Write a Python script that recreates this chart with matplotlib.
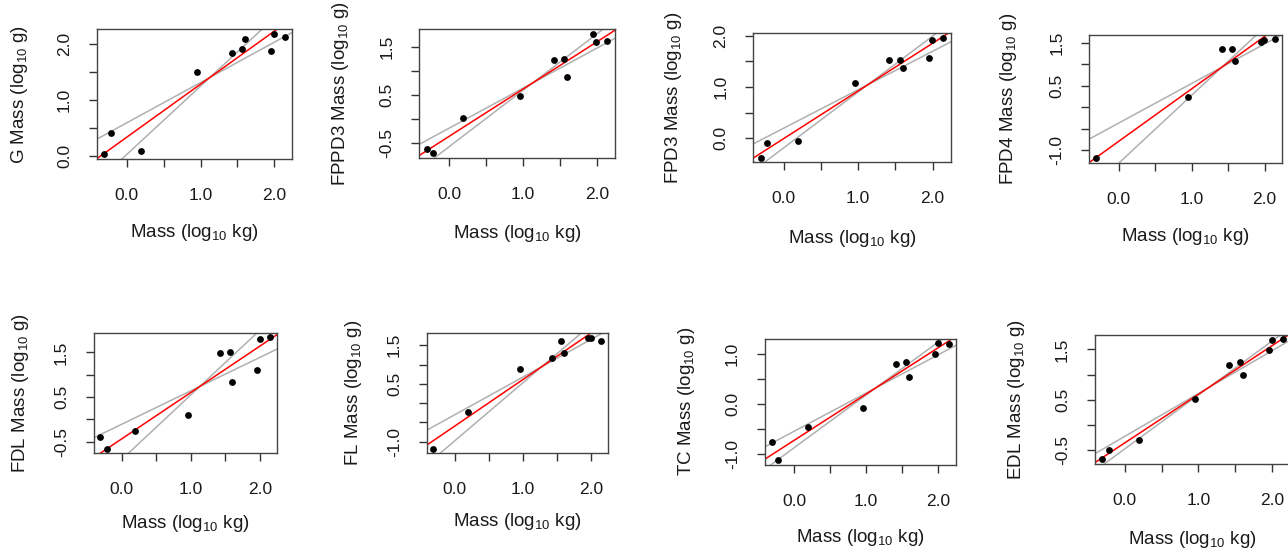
import matplotlib
matplotlib.use("Agg")
import matplotlib.pyplot as plt
import numpy as np

plt.rcParams['font.family'] = ['Liberation Sans', 'DejaVu Sans']
plt.rcParams['mathtext.fontset'] = 'custom'
plt.rcParams['mathtext.rm'] = 'Liberation Sans'
plt.rcParams['mathtext.default'] = 'regular'

# body mass (log10 kg), shared by all panels
mass = [-0.31, -0.22, 0.19, 0.955, 1.42, 1.56, 1.60, 1.955, 1.995, 2.145]

# muscle names and muscle mass (log10 g); nan = not measured
muscles = ['G', 'FPPD3', 'FPD3', 'FPD4', 'FDL', 'FL', 'TC', 'EDL']
g_mass     = [0.03, 0.40, 0.085, 1.50, 1.825, 1.90, 2.09, 1.875, 2.17, 2.11]
fppd3_mass = [-0.615, -0.705, 0.024, 0.476, 1.226, 1.24, 0.878, 1.767, 1.594, 1.615]
fpd3_mass  = [-0.375, -0.091, -0.045, 1.087, 1.528, 1.528, 1.372, 1.56, 1.922, 1.955]
fpd4_mass  = [-1.18, np.nan, np.nan, 0.227, 1.344, 1.344, 1.07, 1.53, 1.5625, 1.578]
fdl_mass   = [-0.388, -0.664, -0.261, 0.104, 1.478, 1.50, 0.836, 1.104, 1.813, 1.843]
fl_mass    = [-1.189, np.nan, -0.245, 0.874, 1.18, 1.60, 1.294, 1.696, 1.696, 1.617]
tc_mass    = [-0.762, -1.113, -0.45, -0.086, 0.795, 0.834, 0.543, 1.0, 1.205, 1.199]
edl_mass   = [-0.68, -0.495, -0.304, 0.521, 1.188, 1.241, 0.99, 1.492, 1.683, 1.696]
muscle_mass = [g_mass, fppd3_mass, fpd3_mass, fpd4_mass, fdl_mass, fl_mass, tc_mass, edl_mass]

# fitted slope and lower / upper slope limits (lines pass through the centroid)
fit_slope = [0.947, 0.98, 0.93, 1.22, 1.04, 1.21, 0.92, 0.965]
low_slope = [0.72, 0.83, 0.75, 0.92, 0.75, 0.98, 0.76, 0.85]
high_slope = [1.22, 1.17, 1.09, 1.58, 1.45, 1.51, 1.05, 1.07]

# y ticks and which of them carry a label
y_ticks = [
    [0.0, 0.5, 1.0, 1.5, 2.0],
    [-0.5, 0.0, 0.5, 1.0, 1.5],
    [0.0, 0.5, 1.0, 1.5, 2.0],
    [-1.0, -0.5, 0.0, 0.5, 1.0, 1.5],
    [-0.5, 0.0, 0.5, 1.0, 1.5],
    [-1.0, -0.5, 0.0, 0.5, 1.0, 1.5],
    [-1.0, -0.5, 0.0, 0.5, 1.0],
    [-0.5, 0.0, 0.5, 1.0, 1.5],
]
y_labelled = [
    [0.0, 1.0, 2.0], [-0.5, 0.5, 1.5], [0.0, 1.0, 2.0], [-1.0, 0.5, 1.5],
    [-0.5, 0.5, 1.5], [-1.0, 0.5, 1.5], [-1.0, 0.0, 1.0], [-0.5, 0.5, 1.5],
]
x_ticks = [0.0, 0.5, 1.0, 1.5, 2.0]
x_labelled = [0.0, 1.0, 2.0]

# panel boxes in pixels: left, right, top, bottom ; label offsets (x, y)
W, H = 1288, 553
boxes = [
    (96.7, 292.3, 29.3, 158.7), (419.3, 614.7, 29.3, 157.7),
    (753.3, 950.7, 33.3, 162.3), (1089, 1282.3, 34.7, 162.7),
    (93.7, 276.7, 332.7, 453.3), (426.7, 607.7, 333.3, 453.3),
    (764.7, 955.7, 338.7, 464.7), (1094.7, 1290, 334.7, 464),
]
xlab_off = [74, 75.5, 76.4, 74, 70.7, 68.4, 72.6, 75.3]
ylab_off = [76.7, 78.6, 80, 80.7, 73.7, 73.4, 78, 78]

fig = plt.figure(figsize=(W / 100, H / 100), dpi=100)

for i, name in enumerate(muscles):
    l, r, t, b = boxes[i]
    ax = fig.add_axes([l / W, 1 - b / H, (r - l) / W, (b - t) / H])
    x = np.array(mass)
    y = np.array(muscle_mass[i])
    ok = ~np.isnan(y)
    x, y = x[ok], y[ok]

    xm, ym = x.mean(), y.mean()
    for s in (low_slope[i], high_slope[i]):
        ax.axline((xm, ym), slope=s, color='#b0b0b0', lw=1.1, zorder=1)
    ax.axline((xm, ym), slope=fit_slope[i], color='red', lw=1.1, zorder=2)
    ax.scatter(x, y, s=24, color='black', zorder=3, linewidths=0)

    # R style 4% padding
    dx = (x.max() - x.min()) * 0.04
    dy = (y.max() - y.min()) * 0.04
    ax.set_xlim(x.min() - dx, x.max() + dx)
    ax.set_ylim(y.min() - dy, y.max() + dy)

    ax.set_xticks(x_ticks, [f'{v:.1f}' if v in x_labelled else '' for v in x_ticks])
    ax.set_yticks(y_ticks[i], [f'{v:.1f}' if v in y_labelled[i] else '' for v in y_ticks[i]])
    ax.tick_params(axis='both', direction='out', length=5.8, width=1.0,
                   color='#333333', labelsize=12.5, labelcolor='#1a1a1a')
    ax.tick_params(axis='x', pad=15)
    ax.tick_params(axis='y', pad=12)
    for lab in ax.get_yticklabels():
        lab.set_rotation(90)
        lab.set_va('center')
        lab.set_ha('right')
    for sp in ax.spines.values():
        sp.set_color('#444444')
        sp.set_linewidth(1.0)

    w_px, h_px = r - l, b - t
    ax.set_xlabel(r'Mass (log$_{10}$ kg)', fontsize=13.5, color='#1a1a1a', va='center')
    ax.xaxis.set_label_coords(0.5, -xlab_off[i] / h_px)
    ax.set_ylabel(name + r' Mass (log$_{10}$ g)', fontsize=13.5, color='#1a1a1a',
                  va='center', ha='center')
    ax.yaxis.set_label_coords(-ylab_off[i] / w_px, 0.5)

fig.savefig('out.png', dpi=100)
